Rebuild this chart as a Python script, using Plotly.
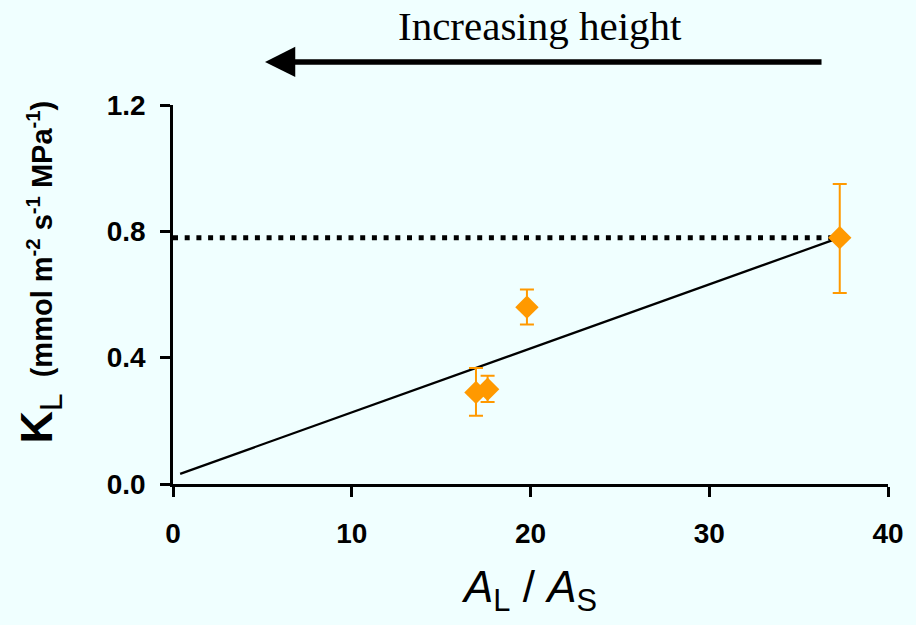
import plotly.graph_objects as go

# Data
ratio_al_as = [16.95, 17.6, 19.8, 37.3]
kl_values = [0.29, 0.30, 0.56, 0.78]
kl_err_plus = [0.077, 0.043, 0.056, 0.17]
kl_err_minus = [0.074, 0.040, 0.055, 0.175]

fit_x = [0.4, 37.3]
fit_y = [0.032, 0.78]

ref_x = [0, 37.3]
ref_y = [0.78, 0.78]

x_ticks = [0, 10, 20, 30, 40]
y_ticks = [0.0, 0.4, 0.8, 1.2]
y_tick_labels = ["0.0", "0.4", "0.8", "1.2"]

ORANGE = "#FF9900"
BG = "#F0FFFF"

fig = go.Figure()

fig.add_trace(go.Scatter(
    x=ref_x, y=ref_y, mode="lines",
    line=dict(color="black", width=5, dash="5px,6.7px"),
    showlegend=False, hoverinfo="skip",
))
fig.add_trace(go.Scatter(
    x=fit_x, y=fit_y, mode="lines",
    line=dict(color="black", width=2.2),
    showlegend=False, hoverinfo="skip",
))
fig.add_trace(go.Scatter(
    x=ratio_al_as, y=kl_values, mode="markers",
    marker=dict(symbol="diamond", size=18, color=ORANGE, line=dict(width=0)),
    error_y=dict(type="data", symmetric=False, array=kl_err_plus,
                 arrayminus=kl_err_minus, color=ORANGE, thickness=2, width=7),
    showlegend=False,
))

axis_font = dict(family="Liberation Sans, Arial, sans-serif", size=28, color="black")

fig.update_layout(
    width=916, height=625,
    margin=dict(l=173, r=28, t=105, b=141),
    paper_bgcolor=BG, plot_bgcolor=BG,
    xaxis=dict(
        range=[0, 40], tickvals=x_ticks,
        ticktext=[f"<b>{v}</b>" for v in x_ticks],
        showgrid=False, zeroline=False,
        showline=True, linecolor="black", linewidth=2.5,
        ticks="outside", ticklen=10, tickwidth=2.5, tickcolor="black",
        tickfont=axis_font, ticklabelstandoff=13,
        title=dict(text="<i>A</i><sub>L</sub> / <i>A</i><sub>S</sub>",
                   font=dict(family="Liberation Sans, Arial, sans-serif", size=44, color="black"),
                   standoff=23),
    ),
    yaxis=dict(
        range=[0, 1.2], tickvals=y_ticks,
        ticktext=[f"<b>{t}</b>" for t in y_tick_labels],
        showgrid=False, zeroline=False,
        showline=True, linecolor="black", linewidth=2.5,
        ticks="outside", ticklen=10, tickwidth=2.5, tickcolor="black",
        tickfont=axis_font, ticklabelstandoff=9,
    ),
    annotations=[
        dict(
            xref="paper", yref="paper", x=-0.187, y=0.559,
            xanchor="center", yanchor="middle", textangle=-90, showarrow=False,
            text="<b>K</b><sub>L</sub><b><span style='font-size:29px'>  (mmol m<sup>-2</sup> s<sup>-1</sup> MPa<sup>-1</sup>)</span></b>",
            font=dict(family="Liberation Sans, Arial, sans-serif", size=45, color="black"),
        ),
        dict(
            xref="paper", yref="paper", x=0.5133, y=1.2084,
            xanchor="center", yanchor="middle", showarrow=False,
            text="Increasing height",
            font=dict(family="Liberation Serif, Times New Roman, serif", size=41, color="black"),
        ),
        dict(
            xref="paper", yref="paper", x=0.1287, y=1.1135,
            axref="pixel", ayref="pixel", ax=558, ay=0,
            showarrow=True, arrowhead=2, arrowsize=1.1, arrowwidth=5.5,
            arrowcolor="black", text="",
        ),
    ],
)

fig.write_html(
    "out.html",
    config={"displayModeBar": False},
    post_script="document.body.style.margin='0';document.body.style.background='%s';"
                "document.documentElement.style.background='%s';" % (BG, BG),
)
